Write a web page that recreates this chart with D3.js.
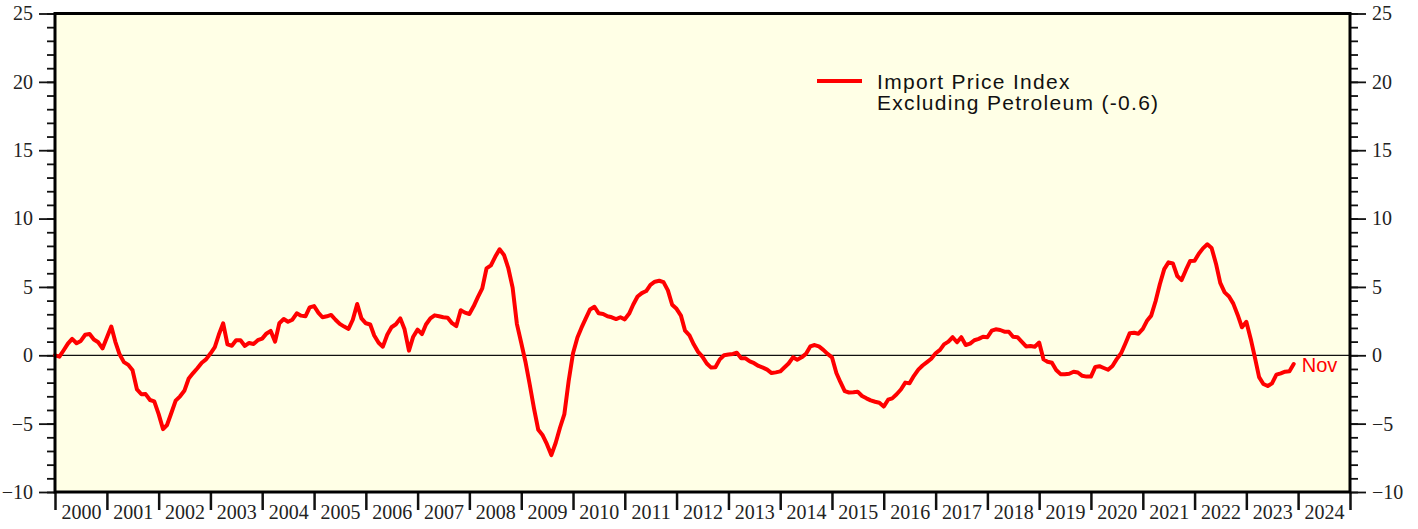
<!DOCTYPE html>
<html>
<head>
<meta charset="utf-8">
<script src="https://cdn.jsdelivr.net/npm/d3@7"></script>
<style>
  html, body { margin: 0; padding: 0; background: #fff; }
  svg { display: block; }
</style>
</head>
<body>
<script>
// Year labels along the bottom
const years = ['2000','2001','2002','2003','2004','2005','2006','2007','2008','2009','2010','2011',
  '2012','2013','2014','2015','2016','2017','2018','2019','2020','2021','2022','2023','2024'];

// Y axis ticks
const yMajorTicks = [-10, -5, 0, 5, 10, 15, 20, 25];
const yMinorTicks = d3.range(-10, 26, 1);

// Import price index excl. petroleum, % change y/y, monthly from Dec 1999 to Nov 2023
const firstMonth = new Date(1999, 11, 1);
const values = [
  0.0,                                                                     // 1999 Dec
  -0.1, 0.35, 0.85, 1.2, 0.88, 1.05, 1.5, 1.56, 1.15, 0.95, 0.5, 1.3,      // 2000
  2.1, 1.0, 0.05, -0.5, -0.7, -1.1, -2.5, -2.85, -2.84, -3.27, -3.37, -4.3, // 2001
  -5.4, -5.1, -4.2, -3.32, -3.0, -2.6, -1.7, -1.3, -0.95, -0.55, -0.3, 0.13, // 2002
  0.6, 1.5, 2.34, 0.8, 0.7, 1.1, 1.1, 0.68, 0.9, 0.83, 1.1, 1.22,          // 2003
  1.6, 1.78, 1.0, 2.34, 2.65, 2.45, 2.6, 3.07, 2.9, 2.85, 3.5, 3.6,        // 2004
  3.1, 2.78, 2.85, 2.95, 2.6, 2.3, 2.1, 1.93, 2.6, 3.75, 2.7, 2.34,        // 2005
  2.25, 1.45, 0.92, 0.63, 1.5, 2.05, 2.27, 2.7, 1.9, 0.34, 1.36, 1.88,     // 2006
  1.55, 2.25, 2.7, 2.92, 2.85, 2.78, 2.75, 2.35, 2.14, 3.3, 3.12, 3.02,    // 2007
  3.6, 4.25, 4.9, 6.36, 6.58, 7.2, 7.75, 7.34, 6.4, 4.95, 2.3, 0.9,        // 2008
  -0.55, -2.1, -3.9, -5.45, -5.85, -6.5, -7.3, -6.4, -5.3, -4.3, -1.9, 0.15, // 2009
  1.3, 2.0, 2.7, 3.35, 3.55, 3.07, 3.02, 2.85, 2.78, 2.65, 2.78, 2.63,     // 2010
  3.05, 3.7, 4.3, 4.55, 4.7, 5.15, 5.38, 5.45, 5.35, 4.75, 3.7, 3.4,       // 2011
  2.9, 1.8, 1.45, 0.8, 0.25, -0.1, -0.6, -0.9, -0.88, -0.3, 0.0, 0.06,     // 2012
  0.1, 0.19, -0.22, -0.22, -0.45, -0.58, -0.78, -0.9, -1.05, -1.3, -1.25, -1.18, // 2013
  -0.88, -0.6, -0.15, -0.32, -0.15, 0.1, 0.65, 0.75, 0.65, 0.4, 0.1, -0.15, // 2014
  -1.3, -1.95, -2.62, -2.72, -2.7, -2.66, -2.98, -3.15, -3.3, -3.4, -3.47, -3.75, // 2015
  -3.25, -3.15, -2.85, -2.5, -2.0, -2.05, -1.5, -1.05, -0.75, -0.5, -0.25, 0.15, // 2016
  0.4, 0.8, 1.0, 1.32, 0.95, 1.32, 0.75, 0.85, 1.1, 1.2, 1.36, 1.32,       // 2017
  1.8, 1.9, 1.85, 1.73, 1.72, 1.36, 1.32, 0.98, 0.65, 0.68, 0.63, 0.93,    // 2018
  -0.3, -0.47, -0.55, -1.08, -1.38, -1.39, -1.35, -1.2, -1.26, -1.5, -1.56, -1.56, // 2019
  -0.85, -0.8, -0.93, -1.06, -0.78, -0.28, 0.15, 0.88, 1.62, 1.65, 1.58, 1.93, // 2020
  2.55, 2.9, 3.95, 5.2, 6.3, 6.8, 6.72, 5.8, 5.5, 6.24, 6.9, 6.92,         // 2021
  7.45, 7.82, 8.12, 7.85, 6.7, 5.3, 4.6, 4.3, 3.78, 2.95, 2.05, 2.45,      // 2022
  1.2, -0.1, -1.6, -2.1, -2.25, -2.05, -1.42, -1.32, -1.2, -1.17, -0.64    // 2023 (to Nov)
];

const seriesName = ['Import Price Index', 'Excluding Petroleum (-0.6)'];
const lastLabel = 'Nov';

// each value plotted at the end of its month
const data = values.map((v, i) => ({ date: d3.timeMonth.offset(firstMonth, i + 1), value: v }));

const W = 1418, H = 529;
const margin = { top: 13.5, right: 68, bottom: 37, left: 55 };
const width = W - margin.left - margin.right;
const height = H - margin.top - margin.bottom;

const svg = d3.select('body').append('svg')
  .attr('width', W)
  .attr('height', H);

const g = svg.append('g')
  .attr('transform', `translate(${margin.left},${margin.top})`);

const x = d3.scaleTime()
  .domain([new Date(2000, 0, 1), new Date(2025, 0, 1)])
  .range([0, width]);

const y = d3.scaleLinear()
  .domain([-10, 25])
  .range([height, 0]);

// plot background
g.append('rect')
  .attr('width', width)
  .attr('height', height)
  .attr('fill', '#ffffe6');

const serif = '"Liberation Serif", "Times New Roman", serif';
const sans = '"Liberation Sans", Arial, sans-serif';

function styleAxis(sel) {
  sel.select('.domain').remove();
  sel.selectAll('line').attr('stroke', '#111').attr('stroke-width', 1.8);
  sel.selectAll('text').attr('fill', '#222').style('font-family', serif).style('font-size', '20px');
}

// left axis
g.append('g')
  .call(d3.axisLeft(y).tickValues(yMinorTicks).tickSize(8).tickFormat(''))
  .call(styleAxis);
g.append('g')
  .call(d3.axisLeft(y).tickValues(yMajorTicks).tickSize(16).tickPadding(6).tickFormat(d3.format('d')))
  .call(styleAxis);

// right axis
g.append('g')
  .attr('transform', `translate(${width},0)`)
  .call(d3.axisRight(y).tickValues(yMinorTicks).tickSize(8).tickFormat(''))
  .call(styleAxis);
g.append('g')
  .attr('transform', `translate(${width},0)`)
  .call(d3.axisRight(y).tickValues(yMajorTicks).tickSize(16).tickPadding(6).tickFormat(d3.format('d')))
  .call(styleAxis);

// bottom axis: ticks at year boundaries, labels centred in each year
const yearStarts = d3.range(2000, 2026).map(yr => new Date(yr, 0, 1));
g.append('g')
  .attr('transform', `translate(0,${height})`)
  .call(d3.axisBottom(x).tickValues(yearStarts).tickSize(18).tickFormat(''))
  .call(styleAxis)
  .selectAll('line').attr('stroke-width', 2.5);

const yearMids = years.map(yr => new Date(+yr, 6, 2));
g.append('g')
  .attr('transform', `translate(0,${height})`)
  .call(d3.axisBottom(x).tickValues(yearMids).tickSize(0).tickPadding(13)
    .tickFormat((d, i) => years[i]))
  .call(styleAxis);

// zero line
g.append('line')
  .attr('x1', 0)
  .attr('x2', width)
  .attr('y1', y(0))
  .attr('y2', y(0))
  .attr('stroke', '#111')
  .attr('stroke-width', 1.3);

// series line
const line = d3.line()
  .x(d => x(d.date))
  .y(d => y(d.value));

g.append('path')
  .datum(data)
  .attr('fill', 'none')
  .attr('stroke', '#ff0000')
  .attr('stroke-width', 4)
  .attr('stroke-linejoin', 'round')
  .attr('stroke-linecap', 'round')
  .attr('d', line);

// last month label
const last = data[data.length - 1];
g.append('text')
  .attr('x', x(last.date) + 8)
  .attr('y', y(last.value) + 8)
  .attr('fill', '#ff0000')
  .style('font-family', sans)
  .style('font-size', '20px')
  .text(lastLabel);

// legend
const legend = svg.append('g')
  .attr('transform', 'translate(817,81)');
legend.append('line')
  .attr('x1', 0)
  .attr('x2', 45)
  .attr('stroke', '#ff0000')
  .attr('stroke-width', 4);
legend.selectAll('text.leg')
  .data(seriesName)
  .enter().append('text')
  .attr('class', 'leg')
  .attr('x', 60)
  .attr('y', (d, i) => 7.5 + i * 21.5)
  .attr('fill', '#111')
  .style('font-family', sans)
  .style('font-size', '21px')
  .style('letter-spacing', '1.3px')
  .text(d => d);

// frame
g.append('rect')
  .attr('width', width)
  .attr('height', height)
  .attr('fill', 'none')
  .attr('stroke', '#000')
  .attr('stroke-width', 3);
</script>
</body>
</html>
